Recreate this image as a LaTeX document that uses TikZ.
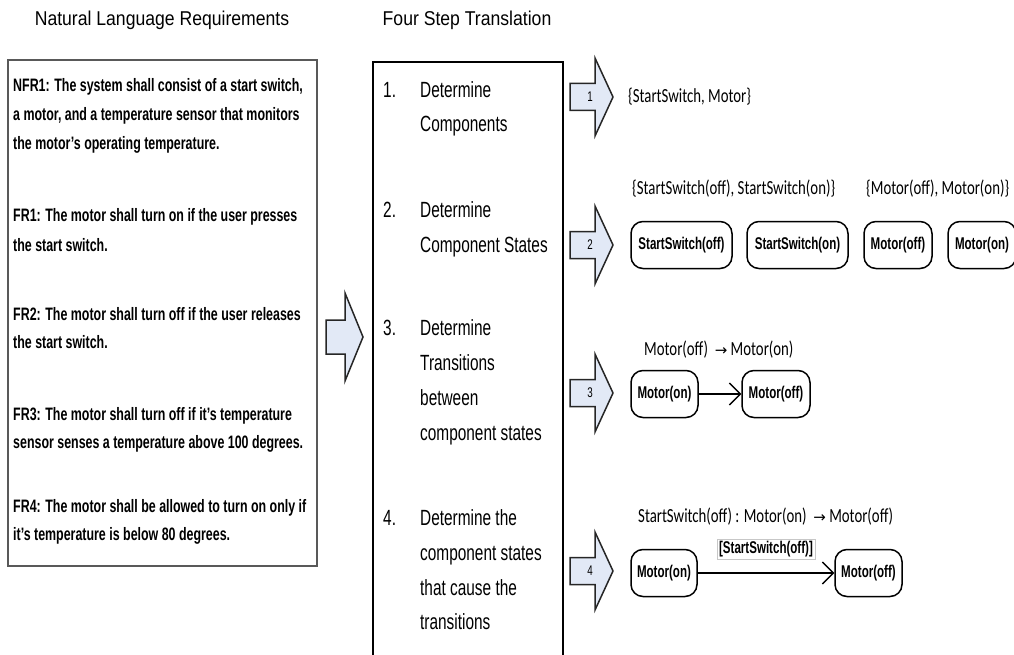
\documentclass[tikz,border=0pt]{standalone}
\usepackage{fontspec}
\setmainfont{Liberation Sans}
\newfontfamily\headfont[FakeStretch=0.88]{Liberation Sans}
\newfontfamily\reqfont[FakeStretch=0.69]{Liberation Sans}
\newfontfamily\stepfont[FakeStretch=0.70]{Liberation Sans}
\newfontfamily\setfont[FakeStretch=0.74]{Carlito}
\newfontfamily\statefont[FakeStretch=0.68]{Liberation Sans}
\newfontfamily\glyphfont{DejaVu Sans}
\usetikzlibrary{arrows.meta}
\definecolor{arrowfill}{HTML}{E2E9F6}
\newcommand{\rarr}{{\glyphfont\fontsize{15}{17}\selectfont →}}

\begin{document}
\begin{tikzpicture}[x=1pt,y=-1pt,
  heading/.style={font=\headfont\fontsize{20}{22}\selectfont, anchor=base, inner sep=0},
  reqline/.style={font=\reqfont\bfseries\fontsize{18}{20}\selectfont, anchor=base west, inner sep=0},
  stepline/.style={font=\stepfont\fontsize{22}{24}\selectfont, anchor=base west, inner sep=0},
  settext/.style={font=\setfont\fontsize{20}{22}\selectfont, anchor=base west, inner sep=0},
  state/.style={draw, line width=1.5pt, rounded corners=12pt, minimum height=47pt,
    inner sep=0, font=\statefont\bfseries\fontsize{17}{19}\selectfont},
  trans/.style={-{Straight Barb[length=11pt,width=22pt,line width=1.3pt]}, line width=1.3pt},
  guard/.style={draw=black!22, fill=white, line width=0.6pt, inner xsep=2pt, inner ysep=2pt,
    font=\statefont\bfseries\fontsize{17}{19}\selectfont},
  arrowshape/.style={draw=black!85, fill=arrowfill, line width=1.5pt, line join=miter},
  stepnum/.style={font=\stepfont\fontsize{14}{16}\selectfont, inner sep=0},
  stepArrow/.pic={
    \draw[arrowshape] (0,-13.5) -- (25,-13.5) -- (25,-39) -- (43,0) -- (25,39)
      -- (25,13.5) -- (0,13.5) -- cycle;
  },
]
\useasboundingbox (0,0) rectangle (1014,655);

% column headings
\node[heading] (titleReq) at (162,26) {Natural Language Requirements};
\node[heading] (titleSteps) at (467,26) {Four Step Translation};

% requirements box
\node[draw=black!65, line width=1.3pt, minimum width=309pt, minimum height=506pt, inner sep=0]
  (reqBox) at (162.5,313) {};
\foreach \yy/\tt [count=\i] in {
  92/{NFR1: The system shall consist of a start switch,},
  121/{a motor, and a temperature sensor that monitors},
  150/{the motor’s operating temperature.},
  222/{FR1: The motor shall turn on if the user presses},
  251/{the start switch.},
  320/{FR2: The motor shall turn off if the user releases},
  348/{the start switch.},
  420/{FR3: The motor shall turn off if it’s temperature},
  448/{sensor senses a temperature above 100 degrees.},
  512/{FR4: The motor shall be allowed to turn on only if},
  540/{it’s temperature is below 80 degrees.}}
  \node[reqline] (req\i) at (13,\yy) {\tt};

% big arrow into the translation steps
\draw[arrowshape] (326,320) -- (345,320) -- (345,293) -- (363,337) -- (345,381)
  -- (345,354) -- (326,354) -- cycle;

% translation steps box
\node[draw, line width=2pt, minimum width=190pt, minimum height=600pt, inner sep=0]
  (stepBox) at (468,362) {};

\node[stepline] (n1) at (383,98) {1.};
\node[stepline] (s1a) at (420,98) {Determine};
\node[stepline] (s1b) at (420,132) {Components};

\node[stepline] (n2) at (383,217) {2.};
\node[stepline] (s2a) at (420,217) {Determine};
\node[stepline] (s2b) at (420,252) {Component States};

\node[stepline] (n3) at (383,335) {3.};
\node[stepline] (s3a) at (420,335) {Determine};
\node[stepline] (s3b) at (420,370) {Transitions};
\node[stepline] (s3c) at (420,405) {between};
\node[stepline] (s3d) at (420,440) {component states};

\node[stepline] (n4) at (383,525) {4.};
\node[stepline] (s4a) at (420,525) {Determine the};
\node[stepline] (s4b) at (420,560) {component states};
\node[stepline] (s4c) at (420,595) {that cause the};
\node[stepline] (s4d) at (420,629) {transitions};

% step arrows
\foreach \cy/\k in {97/1, 245/2, 393/3, 571/4} {
  \pic at (570,\cy) {stepArrow};
  \node[stepnum] (arrowNum\k) at (590,\cy) {\k};
}

% step 1 result
\node[settext] (set1) at (628,103) {\{StartSwitch, Motor\}};

% step 2 results
\node[settext] (set2a) at (632,194) {\{StartSwitch(off), StartSwitch(on)\}};
\node[settext] (set2b) at (866,194) {\{Motor(off), Motor(on)\}};
\node[state, minimum width=101pt] (ssOff) at (681.5,245) {StartSwitch(off)};
\node[state, minimum width=101pt] (ssOn) at (797.5,245) {StartSwitch(on)};
\node[state, minimum width=68pt] (mOff) at (898,245) {Motor(off)};
\node[state, minimum width=68pt] (mOn) at (982,245) {Motor(on)};

% step 3 result
\node[settext] (rule3) at (644,355) {Motor(off)~~\rarr\ Motor(on)};
\node[state, minimum width=67pt] (t3on) at (664.5,394) {Motor(on)};
\node[state, minimum width=68pt] (t3off) at (776,394) {Motor(off)};
\draw[trans] (t3on) -- (t3off);

% step 4 result
\node[settext] (rule4) at (638,522) {StartSwitch(off) : Motor(on)~~\rarr\ Motor(off)};
\node[state, minimum width=66pt] (t4on) at (664,573) {Motor(on)};
\node[state, minimum width=67pt] (t4off) at (868.5,573) {Motor(off)};
\draw[trans] (t4on) -- (t4off);
\node[guard] (guard4) at (766,549) {[StartSwitch(off)]};
\end{tikzpicture}
\end{document}
